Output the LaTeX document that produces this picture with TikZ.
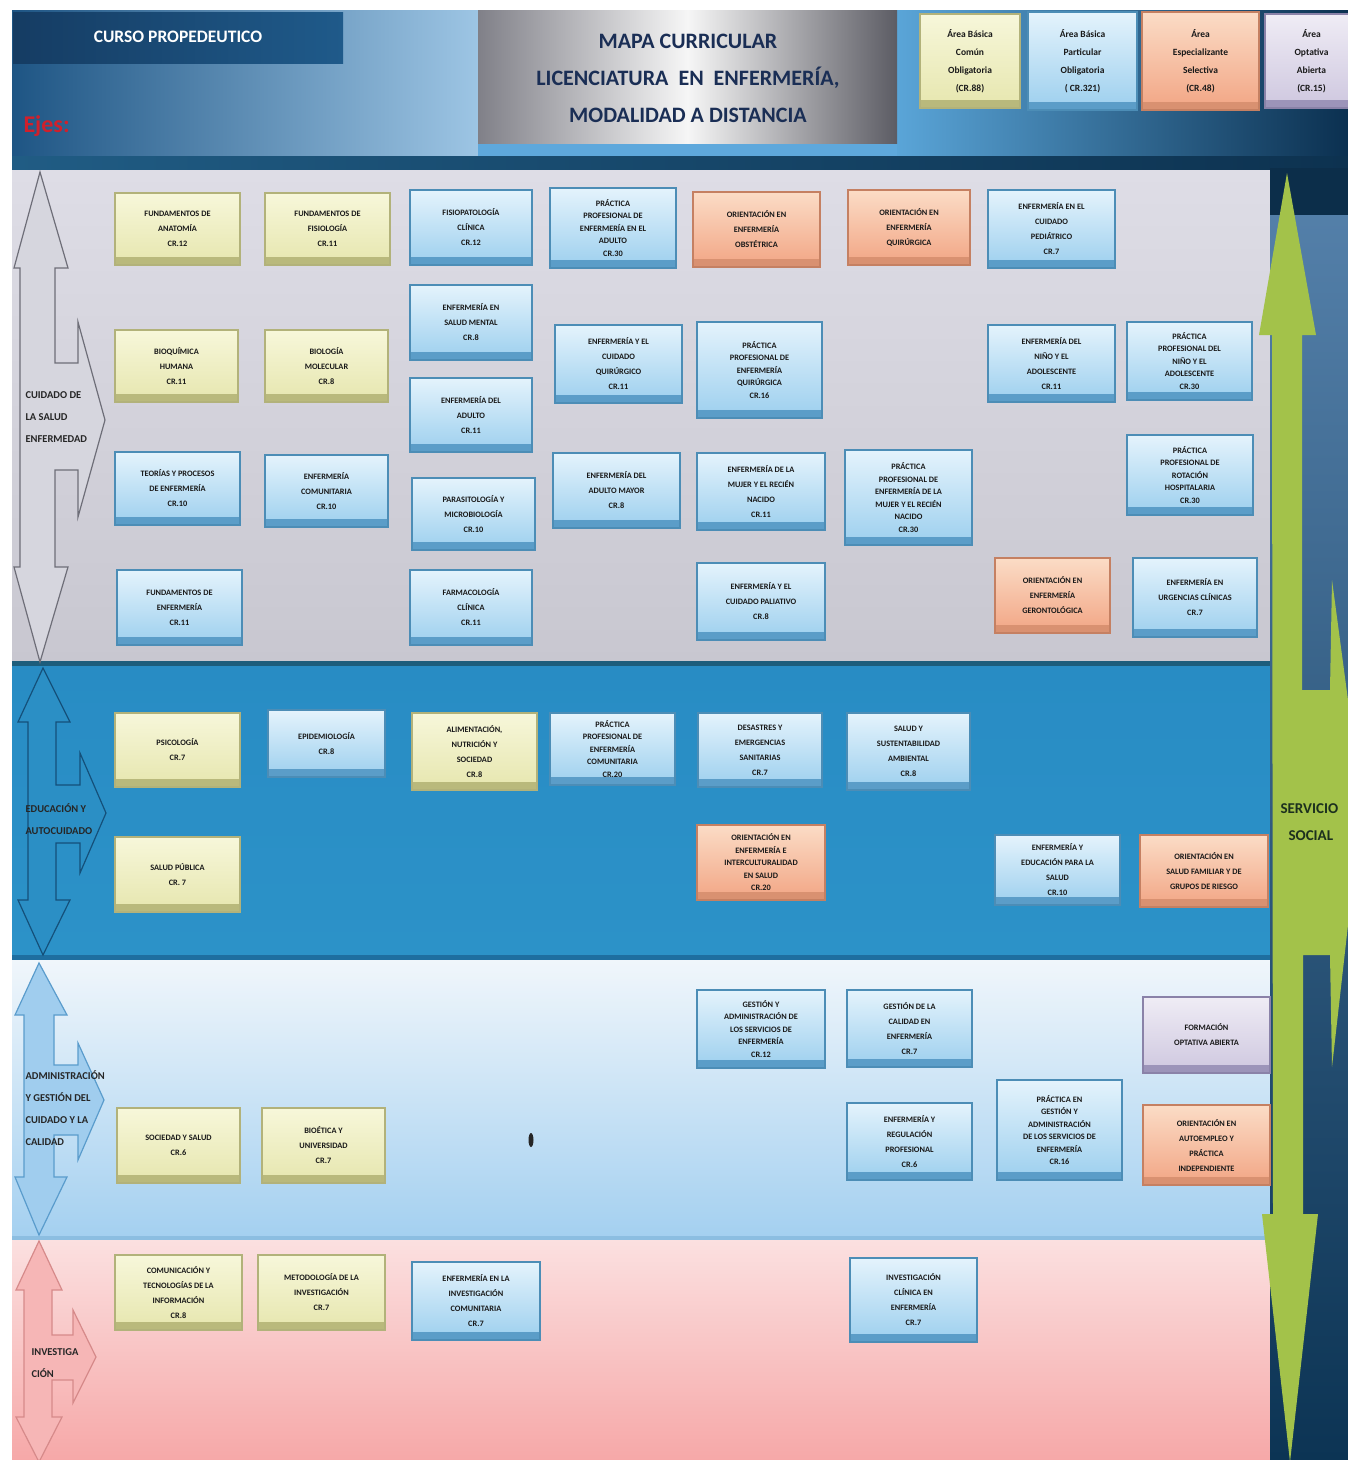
\documentclass[tikz,border=0pt]{standalone}
\usepackage{fontspec}
\setmainfont{Carlito}
\definecolor{ytop}{HTML}{F7F7DA}
\definecolor{ybot}{HTML}{E6E6AE}
\definecolor{yedge}{HTML}{B2B27A}
\definecolor{yband}{HTML}{B9B97C}
\definecolor{btop}{HTML}{E4F3FC}
\definecolor{bbot}{HTML}{9CCFEE}
\definecolor{bedge}{HTML}{4C8DB6}
\definecolor{bband}{HTML}{5B9DC8}
\definecolor{otop}{HTML}{FBDCC6}
\definecolor{obot}{HTML}{F2A584}
\definecolor{oedge}{HTML}{C58062}
\definecolor{oband}{HTML}{D99171}
\definecolor{ptop}{HTML}{EFECF5}
\definecolor{pbot}{HTML}{CEC7DF}
\definecolor{pedge}{HTML}{8A82A8}
\definecolor{pband}{HTML}{9C94B9}
\definecolor{navy}{HTML}{1A2E55}
\definecolor{greenar}{HTML}{A3C24A}
\definecolor{hA}{HTML}{1E5584}
\definecolor{hB}{HTML}{9DC5E4}
\definecolor{hC}{HTML}{5EA8DC}
\definecolor{hD}{HTML}{5AA5D8}
\definecolor{hE}{HTML}{0B3050}
\definecolor{hF}{HTML}{205C84}
\definecolor{hG}{HTML}{0D3250}
\definecolor{cuA}{HTML}{153C63}
\definecolor{cuB}{HTML}{1F5A8A}
\definecolor{ejes}{HTML}{D0202C}
\definecolor{tgA}{HTML}{808088}
\definecolor{tgB}{HTML}{F6F6F6}
\definecolor{tgC}{HTML}{5C5C64}
\definecolor{s1A}{HTML}{DEDDE6}
\definecolor{s1B}{HTML}{C8C7D0}
\definecolor{s1L}{HTML}{1D5D7C}
\definecolor{s2A}{HTML}{288CC4}
\definecolor{s2B}{HTML}{2C92C8}
\definecolor{s2L}{HTML}{1E6EA0}
\definecolor{s3A}{HTML}{F0F6FB}
\definecolor{s3B}{HTML}{A4D0F0}
\definecolor{s3L}{HTML}{8CBEE1}
\definecolor{s4A}{HTML}{FBE0E0}
\definecolor{s4B}{HTML}{F6A8A8}
\definecolor{a1f}{HTML}{D6D6DE}
\definecolor{a1d}{HTML}{6E6E78}
\definecolor{a2f}{HTML}{2B8FC5}
\definecolor{a2d}{HTML}{14507A}
\definecolor{a3f}{HTML}{A0CDEE}
\definecolor{a3d}{HTML}{5A9CCC}
\definecolor{a4f}{HTML}{F6B6B6}
\definecolor{a4d}{HTML}{D68A8A}
\definecolor{rcA}{HTML}{5682AC}
\definecolor{rcB}{HTML}{0C3454}
\definecolor{rcT}{HTML}{0C2E4A}
\definecolor{sstext}{HTML}{1C301E}
\newcommand\cbx[7]{\node[#2, minimum width={#5-#3}, minimum height={#6-#4}] (#1) at ({(#3+#5)/2},{(#4+#6)/2}) {#7};}
\begin{document}
\begin{tikzpicture}[x=1pt,y=-1pt,
  cbox/.style={rectangle, align=center, font=\fontsize{8.3}{15}\selectfont\bfseries, text=black!90, line width=2.2pt, inner sep=1pt},
  tight/.style={font=\fontsize{8.3}{12.5}\selectfont\bfseries},
  legend/.style={font=\fontsize{9.5}{18}\selectfont\bfseries},
  ybox/.style={cbox, draw=yedge, top color=ytop, bottom color=ybot, path picture={\fill[yband] (path picture bounding box.south west) rectangle ([yshift=8pt]path picture bounding box.south east);}},
  bbox/.style={cbox, draw=bedge, top color=btop, bottom color=bbot, path picture={\fill[bband] (path picture bounding box.south west) rectangle ([yshift=8pt]path picture bounding box.south east);}},
  obox/.style={cbox, draw=oedge, top color=otop, bottom color=obot, path picture={\fill[oband] (path picture bounding box.south west) rectangle ([yshift=8pt]path picture bounding box.south east);}},
  pbox/.style={cbox, draw=pedge, top color=ptop, bottom color=pbot, path picture={\fill[pband] (path picture bounding box.south west) rectangle ([yshift=8pt]path picture bounding box.south east);}},
  axlabel/.style={anchor=west, align=left, font=\fontsize{10.5}{22}\selectfont\bfseries, text=black!85},
  axarrow/.style={line width=1.2pt, line join=miter}
]
\useasboundingbox (0,0) rectangle (1348,1460);
\fill[white] (0,0) rectangle (1348,1460);
% ---------------- header ----------------
\shade[left color=hA, right color=hB] (12,10) rectangle (478,165);
\fill[hC] (478,10) rectangle (897,165);
\shade[left color=hD, right color=hE] (897,10) rectangle (1348,165);
\shade[left color=hF, right color=hG] (12,156) rectangle (1348,170);
\shade[left color=cuA, right color=cuB] (13,12) rectangle (343,63);
\node[text=white, font=\fontsize{17.5}{19}\selectfont\bfseries] (curso) at (178,37) {CURSO PROPEDEUTICO};
\node[anchor=west, text=ejes, font=\fontsize{24}{26}\selectfont\bfseries] (ejeslabel) at (20,126) {Ejes:};
\shade[left color=tgA, right color=tgC, middle color=tgB] (478,10) rectangle (897,143);
\node[align=center, text=navy, font=\fontsize{22}{37}\selectfont\bfseries] (title) at (688,78) {MAPA CURRICULAR\\LICENCIATURA\ \ EN\ \ ENFERMERÍA,\\MODALIDAD A DISTANCIA};
% legend
\cbx{L1}{ybox,legend}{920}{14}{1020}{108}{Área Básica\\Común\\Obligatoria\\(CR.88)}
\cbx{L2}{bbox,legend}{1028}{12}{1137}{110}{Área Básica\\Particular\\Obligatoria\\( CR.321)}
\cbx{L3}{obox,legend}{1142}{12}{1259}{110}{Área\\Especializante\\Selectiva\\(CR.48)}
\cbx{L4}{pbox,legend}{1265}{14}{1358}{108}{Área\\Optativa\\Abierta\\(CR.15)}
% ---------------- sections ----------------
\shade[top color=s1A, bottom color=s1B] (12,170) rectangle (1270,663);
\fill[s1L] (12,661) rectangle (1270,666);
\shade[top color=s2A, bottom color=s2B] (12,666) rectangle (1270,956);
\fill[s2L] (12,955) rectangle (1270,960);
\shade[top color=s3A, bottom color=s3B] (12,960) rectangle (1270,1237);
\fill[s3L] (12,1236) rectangle (1270,1240);
\shade[top color=s4A, bottom color=s4B] (12,1240) rectangle (1270,1460);
% left axis arrows
\draw[axarrow, fill=a1f, draw=a1d]
  (40,172) -- (68,268) -- (55,268) -- (55,363) -- (78,363) -- (78,322) -- (105,420) -- (78,517) -- (78,470) -- (55,470) -- (55,567) -- (68,567) -- (40,662) -- (14,567) -- (20,567) -- (20,268) -- (14,268) -- cycle;
\draw[axarrow, fill=a2f, draw=a2d]
  (43,668) -- (70,722) -- (56,722) -- (56,785) -- (80,785) -- (80,753) -- (106,813) -- (80,873) -- (80,843) -- (56,843) -- (56,900) -- (70,900) -- (43,955) -- (18,900) -- (28,900) -- (28,722) -- (18,722) -- cycle;
\draw[axarrow, fill=a3f, draw=a3d]
  (39,963) -- (67,1015) -- (54,1015) -- (54,1065) -- (78,1065) -- (78,1043) -- (104,1100) -- (78,1160) -- (78,1135) -- (54,1135) -- (54,1177) -- (67,1177) -- (39,1235) -- (15,1177) -- (24,1177) -- (24,1015) -- (15,1015) -- cycle;
\draw[axarrow, fill=a4f, draw=a4d]
  (39,1241) -- (62,1290) -- (52,1290) -- (52,1335) -- (73,1335) -- (73,1310) -- (96,1357) -- (73,1403) -- (73,1380) -- (52,1380) -- (52,1417) -- (62,1417) -- (39,1462) -- (16,1417) -- (24,1417) -- (24,1290) -- (16,1290) -- cycle;
\node[axlabel] (ax1) at (22,417) {CUIDADO DE\\LA SALUD\\ENFERMEDAD};
\node[axlabel] (ax2) at (22,819) {EDUCACIÓN Y\\AUTOCUIDADO};
\node[axlabel] (ax3) at (22,1108) {ADMINISTRACIÓN\\Y GESTIÓN DEL\\CUIDADO Y LA\\CALIDAD};
\node[axlabel] (ax4) at (28,1363) {INVESTIGA\\CIÓN};
% ---------------- right column ----------------
\shade[top color=rcA, bottom color=rcB] (1270,168) rectangle (1348,1460);
\fill[rcT] (1270,168) rectangle (1348,215);
\fill[greenar] (1287,173) -- (1316,335) -- (1302,335) -- (1302,690) -- (1330,690) -- (1332,580) -- (1348,700) -- (1348,925) -- (1332,1067) -- (1330,955) -- (1303,955) -- (1303,1214) -- (1318,1214) -- (1290,1462) -- (1262,1214) -- (1273,1214) -- (1272,335) -- (1259,335) -- cycle;
\node[anchor=west, align=left, text=sstext, font=\fontsize{15}{27}\selectfont\bfseries] (ss) at (1277,822) {SERVICIO\\\hspace*{8pt}SOCIAL};
% ---------------- course boxes ----------------
\cbx{a1}{ybox}{115}{193}{240}{265}{FUNDAMENTOS DE\\ANATOMÍA\\CR.12}
\cbx{a2}{ybox}{265}{193}{390}{265}{FUNDAMENTOS DE\\FISIOLOGÍA\\CR.11}
\cbx{a3}{bbox}{410}{190}{532}{265}{FISIOPATOLOGÍA\\CLÍNICA\\CR.12}
\cbx{a4}{bbox,tight}{550}{188}{676}{268}{PRÁCTICA\\PROFESIONAL DE\\ENFERMERÍA EN EL\\ADULTO\\CR.30}
\cbx{a5}{obox}{693}{192}{820}{267}{ORIENTACIÓN EN\\ENFERMERÍA\\OBSTÉTRICA}
\cbx{a6}{obox}{848}{190}{970}{265}{ORIENTACIÓN EN\\ENFERMERÍA\\QUIRÚRGICA}
\cbx{a7}{bbox}{988}{190}{1115}{268}{ENFERMERÍA EN EL\\CUIDADO\\PEDIÁTRICO\\CR.7}
\cbx{b1}{ybox}{115}{330}{238}{402}{BIOQUÍMICA\\HUMANA\\CR.11}
\cbx{b2}{ybox}{265}{330}{388}{402}{BIOLOGÍA\\MOLECULAR\\CR.8}
\cbx{b3}{bbox}{410}{285}{532}{360}{ENFERMERÍA EN\\SALUD MENTAL\\CR.8}
\cbx{b3b}{bbox}{410}{378}{532}{452}{ENFERMERÍA DEL\\ADULTO\\CR.11}
\cbx{b4}{bbox}{555}{325}{682}{403}{ENFERMERÍA Y EL\\CUIDADO\\QUIRÚRGICO\\CR.11}
\cbx{b5}{bbox,tight}{697}{322}{822}{418}{PRÁCTICA\\PROFESIONAL DE\\ENFERMERÍA\\QUIRÚRGICA\\CR.16}
\cbx{b7}{bbox}{988}{325}{1115}{402}{ENFERMERÍA DEL\\NIÑO Y EL\\ADOLESCENTE\\CR.11}
\cbx{b8}{bbox,tight}{1127}{322}{1252}{400}{PRÁCTICA\\PROFESIONAL DEL\\NIÑO Y EL\\ADOLESCENTE\\CR.30}
\cbx{c1}{bbox}{115}{452}{240}{525}{TEORÍAS Y PROCESOS\\DE ENFERMERÍA\\CR.10}
\cbx{c2}{bbox}{265}{455}{388}{527}{ENFERMERÍA\\COMUNITARIA\\CR.10}
\cbx{c3}{bbox}{412}{478}{535}{550}{PARASITOLOGÍA Y\\MICROBIOLOGÍA\\CR.10}
\cbx{c4}{bbox}{553}{453}{680}{528}{ENFERMERÍA DEL\\ADULTO MAYOR\\CR.8}
\cbx{c5}{bbox}{697}{453}{825}{530}{ENFERMERÍA DE LA\\MUJER Y EL RECIÉN\\NACIDO\\CR.11}
\cbx{c6}{bbox,tight}{845}{450}{972}{545}{PRÁCTICA\\PROFESIONAL DE\\ENFERMERÍA DE LA\\MUJER Y EL RECIÉN\\NACIDO\\CR.30}
\cbx{c8}{bbox,tight}{1127}{435}{1253}{515}{PRÁCTICA\\PROFESIONAL DE\\ROTACIÓN\\HOSPITALARIA\\CR.30}
\cbx{d1}{bbox}{117}{570}{242}{645}{FUNDAMENTOS DE\\ENFERMERÍA\\CR.11}
\cbx{d3}{bbox}{410}{570}{532}{645}{FARMACOLOGÍA\\CLÍNICA\\CR.11}
\cbx{d5}{bbox}{697}{563}{825}{640}{ENFERMERÍA Y EL\\CUIDADO PALIATIVO\\CR.8}
\cbx{d7}{obox}{995}{558}{1110}{633}{ORIENTACIÓN EN\\ENFERMERÍA\\GERONTOLÓGICA}
\cbx{d8}{bbox}{1133}{558}{1257}{637}{ENFERMERÍA EN\\URGENCIAS CLÍNICAS\\CR.7}
\cbx{e1}{ybox}{115}{713}{240}{787}{PSICOLOGÍA\\CR.7}
\cbx{e2}{bbox}{268}{710}{385}{777}{EPIDEMIOLOGÍA\\CR.8}
\cbx{e3}{ybox}{412}{713}{537}{790}{ALIMENTACIÓN,\\NUTRICIÓN Y\\SOCIEDAD\\CR.8}
\cbx{e4}{bbox,tight}{550}{713}{675}{785}{PRÁCTICA\\PROFESIONAL DE\\ENFERMERÍA\\COMUNITARIA\\CR.20}
\cbx{e5}{bbox}{698}{713}{822}{787}{DESASTRES Y\\EMERGENCIAS\\SANITARIAS\\CR.7}
\cbx{e6}{bbox}{847}{713}{970}{790}{SALUD Y\\SUSTENTABILIDAD\\AMBIENTAL\\CR.8}
\cbx{f1}{ybox}{115}{837}{240}{912}{SALUD PÚBLICA\\CR. 7}
\cbx{f5}{obox,tight}{697}{825}{825}{900}{ORIENTACIÓN EN\\ENFERMERÍA E\\INTERCULTURALIDAD\\EN SALUD\\CR.20}
\cbx{f7}{bbox}{995}{835}{1120}{905}{ENFERMERÍA Y\\EDUCACIÓN PARA LA\\SALUD\\CR.10}
\cbx{f8}{obox}{1140}{835}{1268}{907}{ORIENTACIÓN EN\\SALUD FAMILIAR Y DE\\GRUPOS DE RIESGO}
\cbx{g5}{bbox,tight}{697}{990}{825}{1068}{GESTIÓN Y\\ADMINISTRACIÓN DE\\LOS SERVICIOS DE\\ENFERMERÍA\\CR.12}
\cbx{g6}{bbox}{847}{990}{972}{1067}{GESTIÓN DE LA\\CALIDAD EN\\ENFERMERÍA\\CR.7}
\cbx{g8}{pbox}{1143}{997}{1270}{1073}{FORMACIÓN\\OPTATIVA ABIERTA}
\cbx{h1}{ybox}{117}{1108}{240}{1183}{SOCIEDAD Y SALUD\\CR.6}
\cbx{h2}{ybox}{262}{1108}{385}{1183}{BIOÉTICA Y\\UNIVERSIDAD\\CR.7}
\cbx{h6}{bbox}{847}{1103}{972}{1180}{ENFERMERÍA Y\\REGULACIÓN\\PROFESIONAL\\CR.6}
\cbx{h7}{bbox,tight}{997}{1080}{1122}{1180}{PRÁCTICA EN\\GESTIÓN Y\\ADMINISTRACIÓN\\DE LOS SERVICIOS DE\\ENFERMERÍA\\CR.16}
\cbx{h8}{obox}{1143}{1105}{1270}{1185}{ORIENTACIÓN EN\\AUTOEMPLEO Y\\PRÁCTICA\\INDEPENDIENTE}
\cbx{i1}{ybox}{115}{1255}{242}{1330}{COMUNICACIÓN Y\\TECNOLOGÍAS DE LA\\INFORMACIÓN\\CR.8}
\cbx{i2}{ybox}{258}{1255}{385}{1330}{METODOLOGÍA DE LA\\INVESTIGACIÓN\\CR.7}
\cbx{i3}{bbox}{412}{1262}{540}{1340}{ENFERMERÍA EN LA\\INVESTIGACIÓN\\COMUNITARIA\\CR.7}
\cbx{i6}{bbox}{850}{1258}{977}{1342}{INVESTIGACIÓN\\CLÍNICA EN\\ENFERMERÍA\\CR.7}
% small dark mark
\fill[black!85] (531,1140) ellipse [x radius=2.5, y radius=7];
\end{tikzpicture}
\end{document}
